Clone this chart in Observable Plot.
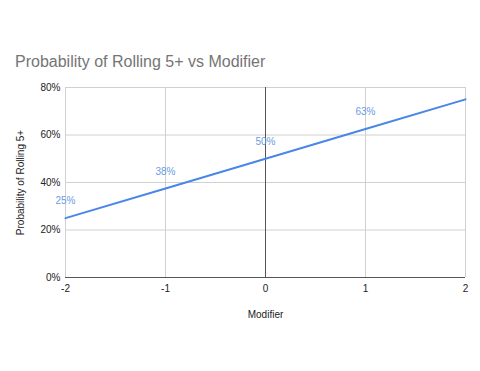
<!DOCTYPE html>
<html>
<head>
<meta charset="utf-8">
<script src="https://cdn.jsdelivr.net/npm/d3@7"></script>
<script src="https://cdn.jsdelivr.net/npm/@observablehq/plot@0.6"></script>
<style>
  body { margin: 0; background: #fff; font-family: Arial, "Liberation Sans", sans-serif; }
  #wrap { position: relative; width: 480px; height: 371px; }
  #title { position: absolute; left: 15px; top: 53px; font-size: 16px; color: #757575; white-space: nowrap; }
  #chart { position: absolute; left: 0; top: 0; }
</style>
</head>
<body>
<div id="wrap">
  <div id="chart"></div>
  <div id="title">Probability of Rolling 5+ vs Modifier</div>
</div>
<script>
const modifiers = [-2, -1, 0, 1, 2];
const probabilities = [0.25, 0.375, 0.5, 0.625, 0.75];
const labelText = ["25%", "38%", "50%", "63%", ""];
const yTicks = [0, 0.2, 0.4, 0.6, 0.8];
const xTicks = [-2, -1, 0, 1, 2];

const data = modifiers.map((m, i) => ({ x: m, y: probabilities[i], label: labelText[i] }));

const chart = Plot.plot({
  width: 480,
  height: 371,
  marginLeft: 65,
  marginRight: 15,
  marginTop: 87,
  marginBottom: 94,
  style: { fontFamily: "Arial, 'Liberation Sans', sans-serif", fontSize: "10px", color: "#222", background: "#fff" },
  x: { domain: [-2, 2], ticks: xTicks, tickFormat: d => String(d), label: null, tickSize: 0, tickPadding: 7 },
  y: { domain: [0, 0.8], ticks: yTicks, tickFormat: d => Math.round(d * 100) + "%", label: null, tickSize: 0, tickPadding: 5 },
  marks: [
    Plot.ruleY(yTicks.filter(d => d > 0), { stroke: "#d0d0d0", strokeWidth: 1 }),
    Plot.ruleX(xTicks.filter(d => d !== 0), { stroke: "#d0d0d0", strokeWidth: 1 }),
    Plot.ruleX([0], { stroke: "#555", strokeWidth: 1 }),
    Plot.ruleY([0], { stroke: "#555", strokeWidth: 1 }),
    Plot.axisX({ ticks: xTicks, tickFormat: d => String(d), tickSize: 0, tickPadding: 7, label: null, fill: "#222" }),
    Plot.axisY({ ticks: yTicks, tickFormat: d => Math.round(d * 100) + "%", tickSize: 0, tickPadding: 5, label: null, fill: "#222" }),
    Plot.line(data, { x: "x", y: "y", stroke: "#4a86e8", strokeWidth: 2 }),
    Plot.text(data, { x: "x", y: "y", text: "label", dy: -17, fill: "#6c9be6", fontSize: 10 }),
    Plot.text(["Modifier"], { frameAnchor: "bottom", dy: 40, fill: "#222", fontSize: 10 }),
    Plot.text(["Probability of Rolling 5+"], { frameAnchor: "left", textAnchor: "middle", dx: -45, rotate: -90, fill: "#222", fontSize: 10 })
  ]
});
document.getElementById("chart").appendChild(chart);
</script>
</body>
</html>
